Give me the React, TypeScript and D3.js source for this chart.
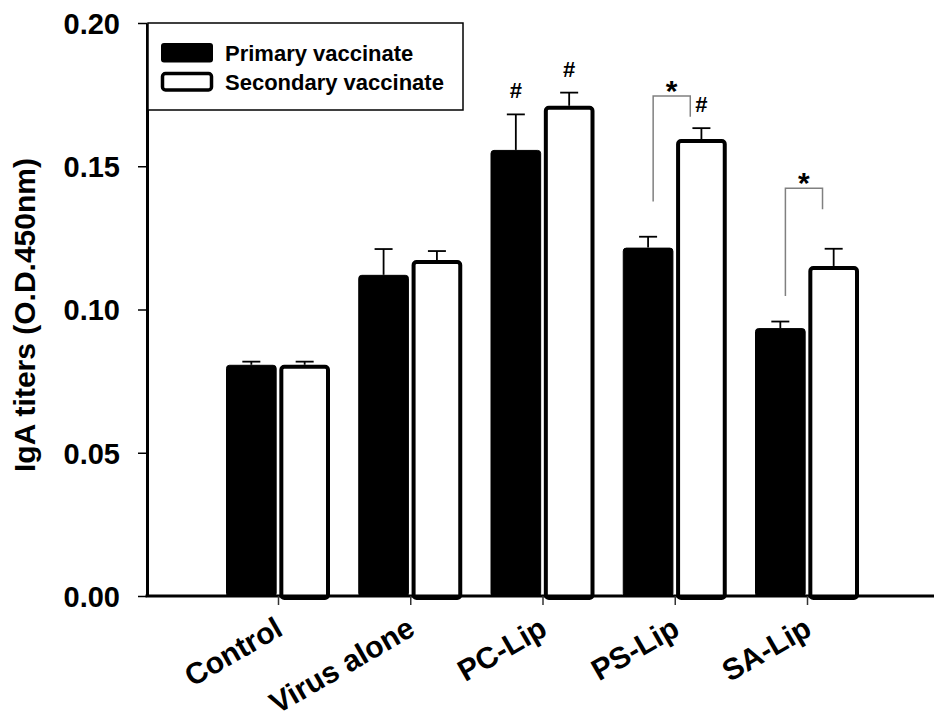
import React, { useEffect, useRef } from 'react';
import * as d3 from 'd3';

const categories = ['Control', 'Virus alone', 'PC-Lip', 'PS-Lip', 'SA-Lip'];
const seriesNames = ['Primary vaccinate', 'Secondary vaccinate'];
const primary = [0.0807, 0.1121, 0.1557, 0.1216, 0.0935];
const primaryErr = [0.0011, 0.009, 0.0124, 0.0038, 0.0023];
const secondary = [0.0807, 0.1173, 0.1711, 0.1595, 0.1152];
const secondaryErr = [0.0011, 0.0031, 0.0046, 0.0038, 0.006];
const yTicks = [0, 0.05, 0.1, 0.15, 0.2];

// "#" marks: [category, series index]
const hashCats = ['PC-Lip', 'PC-Lip', 'PS-Lip'];
const hashSeries = [0, 1, 1];

// "*" brackets between primary and secondary
const bracketCats = ['PS-Lip', 'SA-Lip'];
const bracketTop = [0.1745, 0.1423];
const bracketLeftEnd = [0.1377, 0.1047];
const bracketRightEnd = [0.1673, 0.135];

const FONT = '"Liberation Sans", Arial, Helvetica, sans-serif';

const Chart = () => {
  const svgRef = useRef(null);

  useEffect(() => {
    const svg = d3.select(svgRef.current);
    svg.selectAll('*').remove();

    const width = 934,
      height = 720;
    const left = 147,
      top = 23,
      bottom = 596;

    svg.attr('width', width).attr('height', height);

    const y = d3.scaleLinear().domain([0, 0.2]).range([bottom, top]);
    const x = d3.scalePoint().domain(categories).range([278, 807]);
    const sub = d3.scaleBand().domain(seriesNames).range([-52, 52]).paddingInner(0.05);
    const bw = sub.bandwidth();

    const values = [primary, secondary];
    const errs = [primaryErr, secondaryErr];

    const rows = [];
    categories.forEach((c, i) => {
      seriesNames.forEach((s, j) => {
        rows.push({ cat: c, s, j, v: values[j][i], e: errs[j][i] });
      });
    });

    // error bars (drawn first, bars cover the lower part)
    const eb = svg.append('g').attr('stroke', '#000').attr('stroke-width', 1.8);
    rows.forEach((d) => {
      const cx = x(d.cat) + sub(d.s) + bw / 2;
      eb.append('line').attr('x1', cx).attr('x2', cx).attr('y1', y(d.v)).attr('y2', y(d.v + d.e));
      eb.append('line').attr('x1', cx - 9).attr('x2', cx + 9).attr('y1', y(d.v + d.e)).attr('y2', y(d.v + d.e));
    });

    // bars
    svg
      .append('g')
      .selectAll('rect')
      .data(rows)
      .enter()
      .append('rect')
      .attr('x', (d) => x(d.cat) + sub(d.s) + (d.j === 1 ? 2 : 0.5))
      .attr('y', (d) => y(d.v) + (d.j === 1 ? 2 : 0.5))
      .attr('width', (d) => bw - (d.j === 1 ? 4 : 1))
      .attr('height', (d) => bottom - y(d.v))
      .attr('rx', 3)
      .attr('fill', (d) => (d.j === 0 ? '#000' : '#fff'))
      .attr('stroke', '#000')
      .attr('stroke-width', (d) => (d.j === 1 ? 4 : 1));

    // y axis
    const yAxis = d3
      .axisLeft(y)
      .tickValues(yTicks)
      .tickSize(9)
      .tickSizeOuter(0)
      .tickPadding(18)
      .tickFormat(d3.format('.2f'));
    const gy = svg.append('g').attr('transform', `translate(${left},0)`).call(yAxis);
    gy.select('.domain').attr('stroke-width', 3);
    gy.selectAll('.tick line').attr('stroke-width', 1.5);
    gy.selectAll('.tick text')
      .attr('font-family', FONT)
      .attr('font-weight', 'bold')
      .attr('font-size', 29)
      .attr('fill', '#000')
      .attr('dy', '0.36em');

    // x axis
    svg
      .append('line')
      .attr('x1', left - 1.5)
      .attr('x2', width)
      .attr('y1', bottom)
      .attr('y2', bottom)
      .attr('stroke', '#000')
      .attr('stroke-width', 3);
    const xAxis = d3.axisBottom(x).tickSize(9).tickSizeOuter(0);
    const gx = svg.append('g').attr('transform', `translate(0,${bottom})`).call(xAxis);
    gx.select('.domain').remove();
    gx.selectAll('.tick line').attr('stroke-width', 1.5).attr('stroke', '#333');
    gx.selectAll('.tick text')
      .attr('font-family', FONT)
      .attr('font-weight', 'bold')
      .attr('font-size', 30)
      .attr('fill', '#000')
      .attr('text-anchor', 'end')
      .attr('y', 0)
      .attr('dy', 0)
      .attr('transform', 'translate(6,38) rotate(-30)');

    // y title
    svg
      .append('text')
      .attr('transform', 'translate(35,315) rotate(-90)')
      .attr('text-anchor', 'middle')
      .attr('font-family', FONT)
      .attr('font-weight', 'bold')
      .attr('font-size', 30)
      .text('IgA titers (O.D.450nm)');

    // hash marks
    hashCats.forEach((c, k) => {
      const j = hashSeries[k];
      const i = categories.indexOf(c);
      const v = values[j][i] + errs[j][i];
      svg
        .append('text')
        .attr('x', x(c) + sub(seriesNames[j]) + bw / 2)
        .attr('y', y(v) - 16)
        .attr('text-anchor', 'middle')
        .attr('font-family', FONT)
        .attr('font-size', 22)
        .attr('font-weight', 'bold')
        .text('#');
    });

    // significance brackets
    bracketCats.forEach((c, k) => {
      const x1 = x(c) + sub(seriesNames[0]) + bw * 0.6;
      const x2 = x(c) + sub(seriesNames[1]) + bw * 0.28;
      svg
        .append('path')
        .attr(
          'd',
          `M${x1},${y(bracketLeftEnd[k])}V${y(bracketTop[k])}H${x2}V${y(bracketRightEnd[k])}`
        )
        .attr('fill', 'none')
        .attr('stroke', '#808080')
        .attr('stroke-width', 1.5);
      svg
        .append('text')
        .attr('x', (x1 + x2) / 2)
        .attr('y', y(bracketTop[k]) + 5)
        .attr('text-anchor', 'middle')
        .attr('font-family', FONT)
        .attr('font-weight', 'bold')
        .attr('font-size', 30)
        .text('*');
    });

    // legend
    const lg = svg.append('g');
    lg.append('rect')
      .attr('x', 148)
      .attr('y', 23)
      .attr('width', 315)
      .attr('height', 87)
      .attr('fill', '#fff')
      .attr('stroke', '#000')
      .attr('stroke-width', 1.5);
    seriesNames.forEach((s, j) => {
      const yy = 43 + j * 29;
      lg.append('rect')
        .attr('x', j === 0 ? 161 : 162.5)
        .attr('y', j === 0 ? yy : yy + 1.5)
        .attr('width', j === 0 ? 52 : 49)
        .attr('height', j === 0 ? 19.5 : 16.5)
        .attr('rx', 3)
        .attr('fill', j === 0 ? '#000' : '#fff')
        .attr('stroke', '#000')
        .attr('stroke-width', j === 0 ? 0 : 3.5);
      lg.append('text')
        .attr('x', 225)
        .attr('y', yy + 18)
        .attr('font-family', FONT)
        .attr('font-weight', 'bold')
        .attr('font-size', 22)
        .text(s);
    });
  }, []);

  return (
    <div style={{ position: 'absolute', left: 0, top: 0, background: '#fff' }}>
      <svg ref={svgRef} style={{ display: 'block' }} />
    </div>
  );
};

export default function App() {
  return <Chart />;
}
